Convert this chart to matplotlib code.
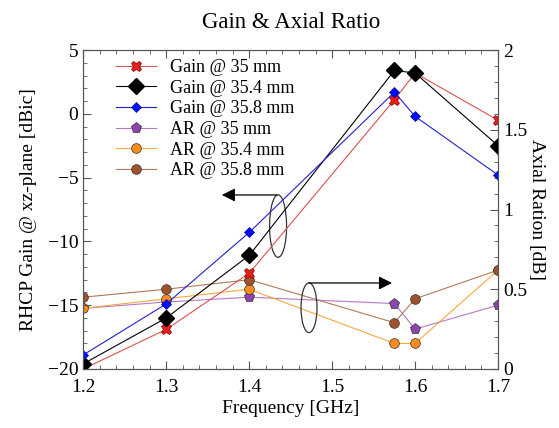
import matplotlib
matplotlib.use("Agg")
import matplotlib.pyplot as plt
from matplotlib.patches import Ellipse
from matplotlib.ticker import MultipleLocator

plt.rcParams['font.family'] = ['Liberation Serif', 'DejaVu Serif']

# frequency points (GHz)
freq = [1.2, 1.3, 1.4, 1.575, 1.6, 1.7]

# RHCP gain (dBic)
gain_35 = [-20.0, -16.9, -12.5, 1.1, 3.2, -0.5]
gain_354 = [-19.6, -16.0, -11.1, 3.4, 3.2, -2.5]
gain_358 = [-18.9, -14.9, -9.3, 1.7, -0.2, -4.8]

# axial ratio (dB)
ar_35 = [0.38, 0.42, 0.45, 0.41, 0.25, 0.40]
ar_354 = [0.38, 0.44, 0.50, 0.16, 0.16, 0.62]
ar_358 = [0.45, 0.50, 0.56, 0.29, 0.44, 0.62]

xticks = [1.2, 1.3, 1.4, 1.5, 1.6, 1.7]
gain_ticks = [-20, -15, -10, -5, 0, 5]
ar_ticks = [0, 0.5, 1, 1.5, 2]

fig = plt.figure(figsize=(5.59, 4.28), dpi=100)
ax1 = fig.add_axes([0.149, 0.138, 0.742, 0.745])
ax2 = ax1.twinx()
# gain curves sit on top of the AR curves
ax1.set_zorder(2)
ax1.patch.set_visible(False)

edge = '#333333'
h1, = ax1.plot(freq, gain_35, color='#d9534f', lw=0.8, marker='X', ms=7.5,
               mfc='#e3201b', mec='#8b0000', mew=0.5, label='Gain @ 35 mm')
h2, = ax1.plot(freq, gain_354, color='black', lw=0.8, marker='D', ms=8,
               mfc='black', mec='black', label='Gain @ 35.4 mm')
h3, = ax1.plot(freq, gain_358, color='#2020d0', lw=0.8, marker='D', ms=5.5,
               mfc='#0010ff', mec='#0000a0', mew=0.5, label='Gain @ 35.8 mm')
h4, = ax2.plot(freq, ar_35, color='#b57ac4', lw=0.8, marker='p', ms=8,
               mfc='#8e44ad', mec=edge, mew=0.5, label='AR @ 35 mm')
h5, = ax2.plot(freq, ar_354, color='#f5a742', lw=0.8, marker='o', ms=7,
               mfc='#ff8c1a', mec=edge, mew=0.5, label='AR @ 35.4 mm')
h6, = ax2.plot(freq, ar_358, color='#b07a5a', lw=0.8, marker='o', ms=7,
               mfc='#a0522d', mec=edge, mew=0.5, label='AR @ 35.8 mm')

ax1.set_xlim(1.2, 1.7)
ax1.set_ylim(-20, 5)
ax2.set_ylim(0, 2)

ax1.set_xticks(xticks)
ax1.set_xticklabels([f'{v:g}' for v in xticks])
ax1.xaxis.set_minor_locator(MultipleLocator(0.02))
ax1.set_yticks(gain_ticks)
ax1.set_yticklabels([f'{v:g}'.replace('-', '\u2212') for v in gain_ticks])
ax1.yaxis.set_minor_locator(MultipleLocator(1))
ax2.set_yticks(ar_ticks)
ax2.set_yticklabels([f'{v:g}' for v in ar_ticks])
ax2.yaxis.set_minor_locator(MultipleLocator(0.1))

ax1.tick_params(which='both', direction='in', top=True, right=False,
                labelsize=14, color='#555555')
ax1.tick_params(axis='x', pad=7)
ax1.tick_params(which='major', length=6)
ax1.tick_params(which='minor', length=3)
ax2.tick_params(which='both', direction='in', labelsize=14, color='#555555')
ax2.tick_params(which='major', length=6)
ax2.tick_params(which='minor', length=3)

ax1.set_xlabel('Frequency [GHz]', fontsize=14, labelpad=3)
ax1.set_ylabel('RHCP Gain @ xz-plane [dBic]', fontsize=14, labelpad=8)
ax2.set_ylabel('Axial Ration [dB]', fontsize=14, rotation=270, labelpad=13)
ax1.set_title('Gain & Axial Ratio', fontsize=16.5, pad=16)

for ax in (ax1, ax2):
    for s in ax.spines.values():
        s.set_color('#555555')

# ellipse + arrow markers pointing at the relevant axis
ax1.add_patch(Ellipse((1.4348, -8.8), 0.0205, 4.9, fill=False, color='#333333', lw=0.9))
ax1.annotate('', xy=(1.367, -6.36), xytext=(1.4335, -6.36),
             arrowprops=dict(arrowstyle='-|>', color='black', lw=0.9,
                             mutation_scale=20, shrinkA=0, shrinkB=0))
ax1.add_patch(Ellipse((1.4721, -15.2), 0.0193, 3.9, fill=False, color='#333333', lw=0.9))
ax1.annotate('', xy=(1.5722, -13.26), xytext=(1.4721, -13.26),
             arrowprops=dict(arrowstyle='-|>', color='black', lw=0.9,
                             mutation_scale=20, shrinkA=0, shrinkB=0))

ax1.legend(handles=[h1, h2, h3, h4, h5, h6], loc='upper left', frameon=False,
           fontsize=13, handlelength=2.2, borderaxespad=0.1, labelspacing=0.2,
           bbox_to_anchor=(0.057, 1.0))

fig.savefig('out.png', dpi=100)
